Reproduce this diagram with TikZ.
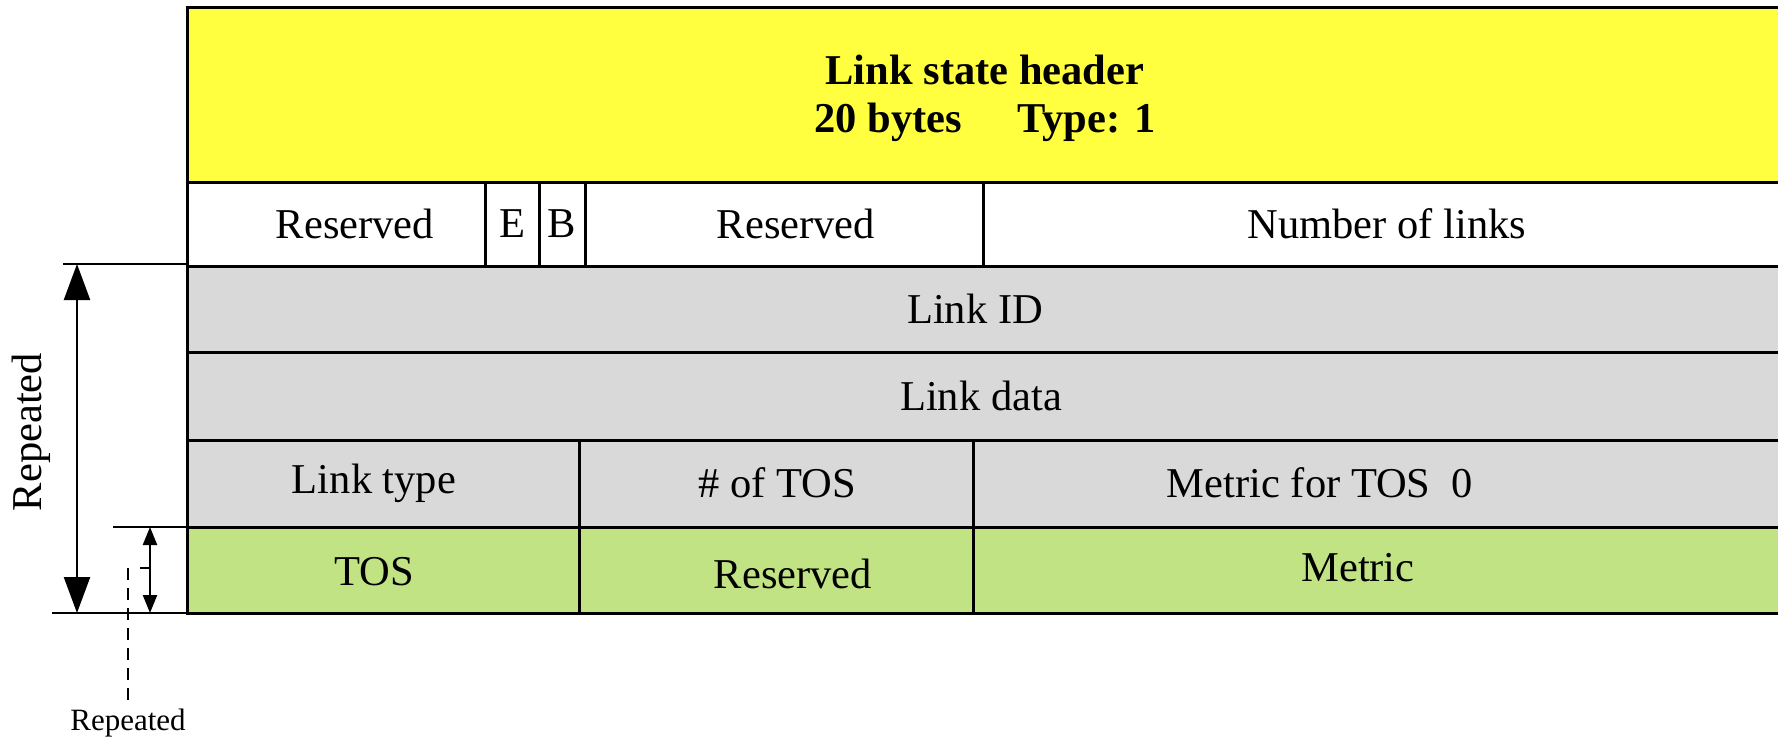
\documentclass[tikz,border=0pt]{standalone}
\usepackage{fontspec}
\setmainfont{Liberation Serif}
\usetikzlibrary{arrows.meta}
\definecolor{hdryellow}{RGB}{255,255,64}
\definecolor{rowgray}{RGB}{217,217,217}
\definecolor{tosgreen}{RGB}{194,227,132}
\begin{document}
\begin{tikzpicture}[x=0.5pt,y=-0.5pt,
  cell/.style={draw=black,line width=1.5pt},
  lbl/.style={inner sep=0pt,font=\fontsize{21.25}{24}\selectfont},
  hdr/.style={inner sep=0pt,align=center,font=\fontsize{21.25}{24}\selectfont\bfseries},
  rule/.style={line width=1.2pt},
  bigarrow/.style={line width=1.2pt,{Triangle[length=18pt,width=13pt]}-{Triangle[length=18pt,width=13pt]}},
  smallarrow/.style={line width=1.2pt,{Triangle[length=9pt,width=7pt]}-{Triangle[length=9pt,width=7pt]}}]
\useasboundingbox (0,0) rectangle (1778,740);
\begin{scope}
\clip (0,0) rectangle (1778,740);
% header
\path[cell,fill=hdryellow] (187,7) rectangle (1800,182);
% flags row
\path[cell,fill=white] (187,182) rectangle (485,266);
\path[cell,fill=white] (485,182) rectangle (539,266);
\path[cell,fill=white] (539,182) rectangle (585,266);
\path[cell,fill=white] (585,182) rectangle (983,266);
\path[cell,fill=white] (983,182) rectangle (1800,266);
% link rows
\path[cell,fill=rowgray] (187,266) rectangle (1800,352);
\path[cell,fill=rowgray] (187,352) rectangle (1800,440);
\path[cell,fill=rowgray] (187,440) rectangle (579,527);
\path[cell,fill=rowgray] (579,440) rectangle (973,527);
\path[cell,fill=rowgray] (973,440) rectangle (1800,527);
% TOS rows
\path[cell,fill=tosgreen] (187,527) rectangle (579,613);
\path[cell,fill=tosgreen] (579,527) rectangle (973,613);
\path[cell,fill=tosgreen] (973,527) rectangle (1800,613);
\end{scope}

% field labels
\node[hdr] (header) at (985,98) {Link state header\\20 bytes\hspace{1.3em}Type: 1};
\node[lbl] (res1) at (355,224) {Reserved};
\node[lbl] (flagE) at (512,224) {E};
\node[lbl] (flagB) at (562,224) {B};
\node[lbl] (res2) at (796,224) {Reserved};
\node[lbl] (nlinks) at (1387,224) {Number of links};
\node[lbl] (linkid) at (975,309) {Link ID};
\node[lbl] (linkdata) at (981,396) {Link data};
\node[lbl] (linktype) at (374,483) {Link type};
\node[lbl] (ntos) at (777,483) {\# of TOS};
\node[lbl] (metric0) at (1320,483) {Metric for TOS\ \ 0};
\node[lbl] (tos) at (374,572) {TOS};
\node[lbl] (res3) at (793,574) {Reserved};
\node[lbl] (metric) at (1358,568) {Metric};

% repetition markers
\coordinate (rtopL) at (63,264);
\coordinate (rtopR) at (187,264);
\coordinate (rbotL) at (52,613);
\coordinate (rbotR) at (187,613);
\coordinate (gtopL) at (113,527);
\coordinate (gtopR) at (187,527);
\coordinate (bigA) at (77,264);
\coordinate (bigB) at (77,613);
\coordinate (smallA) at (150,527);
\coordinate (smallB) at (150,613);
\coordinate (tickL) at (140,568);
\coordinate (tickR) at (150,568);
\coordinate (dashA) at (128,568);
\coordinate (dashB) at (128,700);

\draw[rule] (rtopL) -- (rtopR);
\draw[rule] (rbotL) -- (rbotR);
\draw[rule] (gtopL) -- (gtopR);
\draw[bigarrow] (bigA) -- (bigB);
\draw[smallarrow] (smallA) -- (smallB);
\draw[line width=0.8pt] (tickL) -- (tickR);
\draw[line width=0.8pt,dash pattern=on 6pt off 4pt] (dashA) -- (dashB);

\node[lbl,rotate=90] (rep1) at (31,432) {Repeated};
\node[inner sep=0pt,font=\fontsize{15.5}{18}\selectfont] (rep2) at (128,723) {Repeated};
\end{tikzpicture}
\end{document}
